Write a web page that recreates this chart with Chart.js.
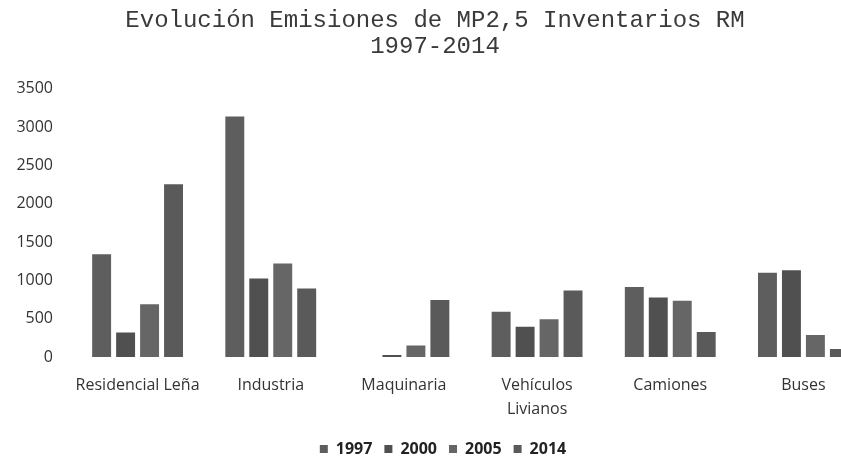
<!DOCTYPE html>
<html><head><meta charset="utf-8">
<script src="https://cdn.jsdelivr.net/npm/chart.js@4"></script>
<style>
html,body{margin:0;padding:0;background:#fff;overflow:hidden;width:841px;height:461px;}
#wrap{width:880px;height:461px;position:relative;}
</style></head>
<body><div id="wrap"><canvas id="c" width="880" height="461"></canvas></div>
<script>
const categories = ['Residencial Leña', 'Industria', 'Maquinaria', ['Vehículos','Livianos'], 'Camiones', 'Buses'];
const years = ['1997', '2000', '2005', '2014'];
const v1997 = [1340, 3140, 0, 590, 913, 1099];
const v2000 = [321, 1026, 25, 396, 777, 1133];
const v2005 = [688, 1220, 150, 494, 733, 287];
const v2014 = [2254, 895, 745, 868, 325, 103];
const yTicks = [0, 500, 1000, 1500, 2000, 2500, 3000, 3500];
const colors = ['#5e5e5e', '#505050', '#666666', '#5a5a5a'];
const series = [v1997, v2000, v2005, v2014];

const legendShift = {
  id: 'legendShift',
  afterLayout(chart) { chart.legend.left += 8; chart.legend.right += 8; }
};

new Chart(document.getElementById('c'), {
  type: 'bar',
  data: {
    labels: categories,
    datasets: series.map((d, i) => ({
      label: years[i], data: d, backgroundColor: colors[i],
      barPercentage: 0.79, categoryPercentage: 0.72
    }))
  },
  plugins: [legendShift],
  options: {
    responsive: false, animation: false,
    layout: { padding: { left: 0, right: 10, top: 6, bottom: -6 } },
    plugins: {
      title: {
        display: true, text: ['Evolución Emisiones de MP2,5 Inventarios RM', '1997-2014'],
        font: { family: 'Liberation Mono', size: 24, weight: 'normal', lineHeight: 1.08 },
        color: '#3a3a3a', padding: { top: 2, bottom: 29 }
      },
      legend: {
        position: 'bottom',
        labels: { boxWidth: 8, boxHeight: 8, color: '#222', font: { family: 'Open Sans', size: 16, weight: 'bold', lineHeight: 1.0 }, padding: 12 }
      },
      tooltip: { enabled: false }
    },
    scales: {
      x: {
        grid: { display: false }, border: { display: false },
        ticks: { color: '#333', font: { family: 'Open Sans', size: 16, lineHeight: 1.5 }, padding: 8, maxRotation: 0, autoSkip: false }
      },
      y: {
        min: 0, max: 3500,
        afterBuildTicks: s => { s.ticks = yTicks.map(v => ({ value: v })); },
        afterFit: s => { s.width = 71; },
        grid: { display: false }, border: { display: false },
        ticks: { color: '#333', font: { family: 'Open Sans', size: 16 }, padding: 10, callback: v => String(v) }
      }
    }
  }
});
</script></body></html>
